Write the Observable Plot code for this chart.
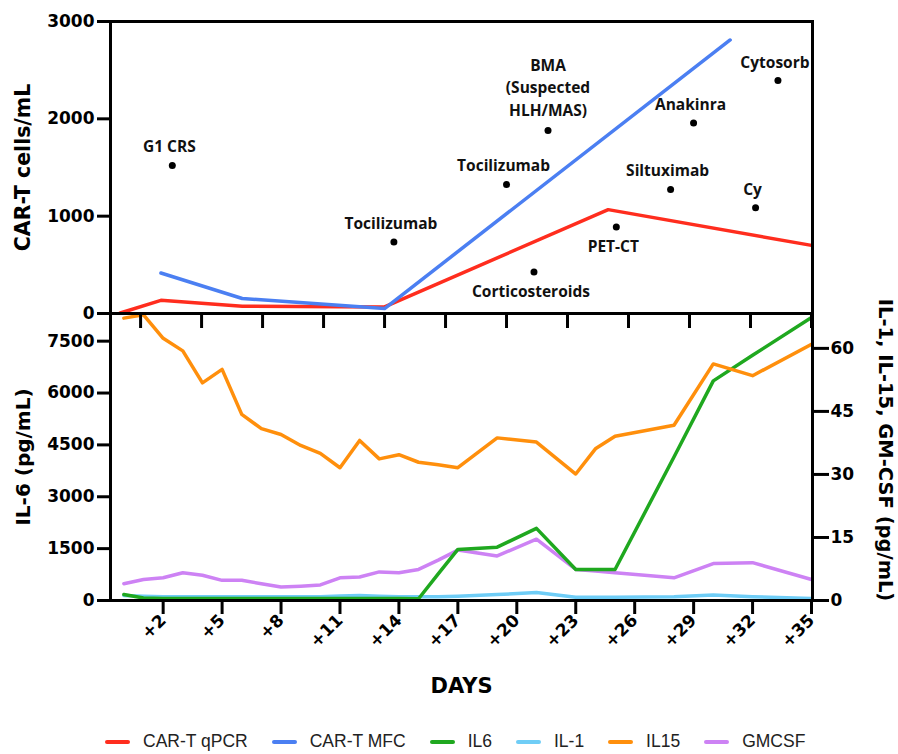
<!DOCTYPE html>
<html>
<head>
<meta charset="utf-8">
<script src="https://cdn.jsdelivr.net/npm/d3@7"></script>
<script src="https://cdn.jsdelivr.net/npm/@observablehq/plot@0.6"></script>
<style>
  html, body { margin: 0; padding: 0; background: #fff; }
  #wrap { position: relative; width: 898px; height: 754px; overflow: hidden; }
  #wrap svg { position: absolute; left: 0; top: 0; }
  #legend { position: absolute; left: 105px; top: 731px; display: flex; align-items: center;
            font-family: "Liberation Sans", Arial, sans-serif; font-size: 17.5px; color: #222; white-space: nowrap; }
  .item { display: flex; align-items: center; margin-right: 24px; }
  .sw { width: 25px; height: 4px; border-radius: 2px; margin-right: 13px; }
</style>
</head>
<body>
<div id="wrap"></div>
<script>
// ---------- data ----------
// top panel: CAR-T cells/mL
const qpcrDays = [1, 3, 7, 14, 25, 35];
const qpcrValues = [5, 135, 75, 68, 1067, 700];
const mfcDays = [3, 7, 14, 31];
const mfcValues = [416, 154, 51, 2810];

const eventLabels = ["G1 CRS", "Tocilizumab", "Tocilizumab", "BMA\n(Suspected\nHLH/MAS)", "Corticosteroids", "PET-CT", "Siltuximab", "Anakinra", "Cy", "Cytosorb"];
const eventDays = [3.56, 14.46, 20.0, 22.04, 21.35, 25.4, 28.07, 29.2, 32.25, 33.35];
const eventValues = [1521, 734, 1326, 1880, 427, 888, 1275, 1956, 1087, 2393];
const eventSides = ["above", "above", "above", "above", "below", "below", "above", "above", "above", "above"];

// bottom panel: cytokines
const cytoDays = [0, 1, 2, 3, 4, 5, 6, 7, 8, 9, 10, 11, 12, 13, 14, 15, 16, 17, 19, 21, 23, 24, 25, 28, 30, 32, 35];
const il6Values   = [174, 75, 60, 60, 60, 60, 60, 60, 60, 60, 60, 60, 60, 60, 55, 50, 770, 1477, 1543, 2085, 898, 898, 898, 4150, 6351, 7090, 8184];
const il1Values   = [1.2, 1.0, 0.9, 0.9, 0.9, 0.9, 0.9, 0.9, 0.9, 0.9, 0.9, 1.1, 1.2, 1.0, 0.9, 0.9, 0.9, 1.0, 1.4, 1.9, 0.8, 0.8, 0.8, 0.9, 1.3, 0.9, 0.5];
const il15Values  = [67.2, 68, 62.4, 59.4, 51.8, 55.0, 44.3, 40.9, 39.5, 36.9, 35.0, 31.6, 38.1, 33.7, 34.7, 32.9, 32.3, 31.6, 38.7, 37.7, 30.1, 36.1, 39.1, 41.7, 56.3, 53.5, 61.0];
const gmcsfValues = [4.0, 5.0, 5.4, 6.6, 6.0, 4.8, 4.8, 4.0, 3.2, 3.4, 3.7, 5.4, 5.6, 6.8, 6.6, 7.4, 9.6, 12.0, 10.6, 14.6, 7.4, 7.0, 6.6, 5.4, 8.8, 9.0, 5.0];

// axes
const xTicks = [2, 5, 8, 11, 14, 17, 20, 23, 26, 29, 32, 35];
const xTickLabels = ["+2", "+5", "+8", "+11", "+14", "+17", "+20", "+23", "+26", "+29", "+32", "+35"];
const topYTicks = [0, 1000, 2000, 3000];
const leftYTicks = [0, 1500, 3000, 4500, 6000, 7500];
const rightYTicks = [0, 15, 30, 45, 60];

const seriesNames = ["CAR-T qPCR", "CAR-T MFC", "IL6", "IL-1", "IL15", "GMCSF"];
const seriesColors = ["#ff2d1e", "#4b7ff2", "#1fa81f", "#6fcdf6", "#ff8f0c", "#cd82f4"];

// ---------- build ----------
const W = 898, H = 720;
const axisStyle = {fontFamily: "DejaVu Sans", fontWeight: "bold", fontSize: "17px", color: "#000", background: "transparent", overflow: "visible"};
const annFont = {fontFamily: "Open Sans", fontWeight: 700, fontSize: 15.5, fill: "#111"};

const qpcr = qpcrDays.map((d, i) => ({day: d, v: qpcrValues[i]}));
const mfc = mfcDays.map((d, i) => ({day: d, v: mfcValues[i]}));
const events = eventLabels.map((t, i) => ({t, day: eventDays[i], v: eventValues[i], side: eventSides[i]}));
const single = events.filter(e => e.side === "above" && !e.t.includes("\n"));
const multi = events.filter(e => e.side === "above" && e.t.includes("\n"));
const below = events.filter(e => e.side === "below");

const topPlot = Plot.plot({
  width: W, height: H,
  marginTop: 21, marginBottom: H - 313, marginLeft: 110, marginRight: 86,
  style: axisStyle,
  x: {domain: [0.52, 35.05]},
  y: {domain: [0, 3000]},
  marks: [
    Plot.axisY({ticks: topYTicks, tickFormat: d => String(d), tickSize: 13, tickPadding: 3, strokeWidth: 3, label: null}),
    Plot.axisX({ticks: xTicks, tickSize: 15, tickFormat: () => "", strokeWidth: 3, label: null}),
    Plot.line(qpcr, {x: "day", y: "v", stroke: seriesColors[0], strokeWidth: 3.5}),
    Plot.line(mfc, {x: "day", y: "v", stroke: seriesColors[1], strokeWidth: 3.5}),
    Plot.dot(events, {x: "day", y: "v", r: 3.5, fill: "#000", stroke: "none"}),
    Plot.text(single, {x: "day", y: "v", text: "t", dy: -18, dx: -3, ...annFont}),
    Plot.text(multi, {x: "day", y: "v", text: "t", dy: -15, lineAnchor: "bottom", lineHeight: 1.45, ...annFont}),
    Plot.text(below, {x: "day", y: "v", text: "t", dy: 20, dx: -3, ...annFont}),
    Plot.text(["CAR-T cells/mL"], {frameAnchor: "left", textAnchor: "middle", dx: -87, rotate: -90, fontSize: 20.5, fontWeight: "bold", fill: "#000"}),
    Plot.frame({stroke: "#000", strokeWidth: 3})
  ]
});

const k = 8300 / 68.3;
const cyto = cytoDays.map((d, i) => ({day: d, il6: il6Values[i], il1: il1Values[i] * k, il15: il15Values[i] * k, gm: gmcsfValues[i] * k}));
const xLabel = new Map(xTicks.map((t, i) => [t, xTickLabels[i]]));

const bottomPlot = Plot.plot({
  width: W, height: H,
  marginTop: 313, marginBottom: H - 600, marginLeft: 110, marginRight: 86,
  style: axisStyle,
  x: {domain: [-0.68, 35.05]},
  y: {domain: [0, 8300]},
  marks: [
    Plot.axisY({ticks: leftYTicks, tickFormat: d => String(d), tickSize: 13, tickPadding: 3, strokeWidth: 3, label: null}),
    Plot.axisY({anchor: "right", ticks: rightYTicks.map(v => v * k), tickFormat: d => String(Math.round(d / k)), tickSize: 16, tickPadding: 2, strokeWidth: 3, label: null}),
    Plot.axisX({ticks: xTicks, tickFormat: d => xLabel.get(d), tickRotate: -45, tickSize: 14, tickPadding: 3, strokeWidth: 3, label: null}),
    Plot.line(cyto, {x: "day", y: "il1", stroke: seriesColors[3], strokeWidth: 3.5, clip: true}),
    Plot.line(cyto, {x: "day", y: "gm", stroke: seriesColors[5], strokeWidth: 3.5, clip: true}),
    Plot.line(cyto, {x: "day", y: "il6", stroke: seriesColors[2], strokeWidth: 3.5, clip: true}),
    Plot.line(cyto, {x: "day", y: "il15", stroke: seriesColors[4], strokeWidth: 3.5, clip: true}),
    Plot.text(["IL-6 (pg/mL)"], {frameAnchor: "left", textAnchor: "middle", dx: -87, rotate: -90, fontSize: 20, fontWeight: "bold", fill: "#000"}),
    Plot.text(["IL-1, IL-15, GM-CSF (pg/mL)"], {frameAnchor: "right", textAnchor: "middle", dx: 73, dy: -7, rotate: 90, fontSize: 19.5, fontWeight: "bold", fill: "#000"}),
    Plot.text(["DAYS"], {frameAnchor: "bottom", dy: 92, fontSize: 21, fontWeight: "bold", fill: "#000"}),
    Plot.frame({stroke: "#000", strokeWidth: 3})
  ]
});

const wrap = document.getElementById("wrap");
wrap.appendChild(bottomPlot);
wrap.appendChild(topPlot);

const legend = document.createElement("div");
legend.id = "legend";
seriesNames.forEach((n, i) => {
  const it = document.createElement("div");
  it.className = "item";
  const sw = document.createElement("span");
  sw.className = "sw";
  sw.style.background = seriesColors[i];
  const tx = document.createElement("span");
  tx.textContent = n;
  it.appendChild(sw); it.appendChild(tx);
  legend.appendChild(it);
});
wrap.appendChild(legend);
</script>
</body>
</html>
